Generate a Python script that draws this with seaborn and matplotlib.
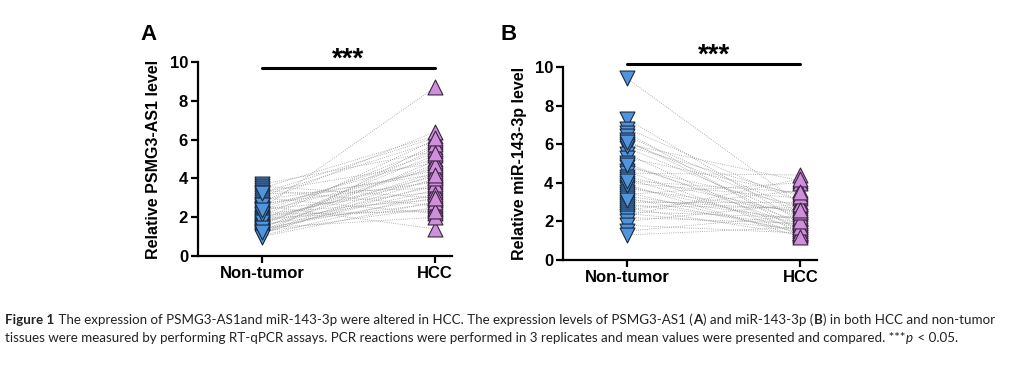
import matplotlib
matplotlib.use("Agg")
import matplotlib.pyplot as plt
import seaborn as sns
import pandas as pd

# ---- data ----
groups = ["Non-tumor", "HCC"]

psmg_nontumor = [3.7, 3.6, 3.5, 3.4, 3.3, 3.2, 3.1, 3.0, 2.9, 2.8, 2.7, 2.6, 2.5, 2.45, 2.4,
                 2.3, 2.2, 2.1, 2.0, 1.95, 1.9, 1.85, 1.8, 1.7, 1.65, 1.6, 1.55, 1.5, 1.45, 1.4,
                 1.35, 1.3, 1.25, 1.2, 1.15, 1.1, 1.05, 1.0, 2.65, 3.25, 1.75, 2.15, 2.35, 1.42, 1.22]
psmg_hcc = [5.4, 3.0, 6.2, 2.6, 4.8, 3.5, 5.9, 2.2, 4.2, 6.4, 3.8, 1.4, 5.0, 8.7, 3.3,
            4.5, 2.9, 5.6, 3.9, 2.4, 4.1, 6.0, 3.1, 4.6, 2.7, 5.2, 3.6, 4.3, 2.0, 5.5,
            3.4, 4.9, 2.5, 3.7, 4.0, 5.8, 3.2, 2.8, 4.4, 6.1, 4.7, 2.3, 5.3, 3.0, 4.2]

mir_nontumor = [9.4, 7.3, 6.8, 6.6, 6.4, 6.2, 6.0, 5.8, 5.5, 5.3, 5.0, 4.8, 4.6, 4.5, 4.3,
                4.2, 4.0, 3.8, 3.7, 3.5, 3.4, 3.3, 3.2, 3.0, 2.9, 2.8, 2.7, 2.6, 2.5, 2.4,
                2.3, 2.2, 2.0, 1.8, 1.5, 1.3, 5.9, 4.9, 3.9, 6.1, 4.1, 3.1]
mir_hcc = [2.9, 2.0, 3.0, 1.5, 2.6, 1.8, 4.1, 2.2, 1.4, 3.4, 1.7, 2.8, 1.3, 4.4, 2.4,
           1.6, 3.2, 1.9, 2.5, 1.4, 4.0, 2.1, 1.5, 3.0, 1.8, 2.7, 1.3, 3.6, 2.2, 1.6,
           4.2, 1.9, 2.9, 1.4, 2.3, 1.7, 3.3, 2.0, 1.2, 2.5, 3.5, 2.6]

ylabels = ["Relative PSMG3-AS1 level", "Relative miR-143-3p level"]
panel_letters = ["A", "B"]
sig_text = "***"

blue = "#4f94dc"
purple = "#cf8fdb"


def paired_frame(a, b):
    rows = []
    for i, (x, y) in enumerate(zip(a, b)):
        rows.append({"subject": i, "group": groups[0], "value": x})
        rows.append({"subject": i, "group": groups[1], "value": y})
    return pd.DataFrame(rows)


sns.set_style("ticks")
plt.rcParams["font.family"] = ["Liberation Sans", "DejaVu Sans"]
plt.rcParams["text.color"] = "black"
plt.rcParams["axes.labelcolor"] = "black"
plt.rcParams["xtick.color"] = "black"
plt.rcParams["ytick.color"] = "black"
plt.rcParams["axes.edgecolor"] = "black"

fig = plt.figure(figsize=(10.09, 3.65), dpi=100)
ax_a = fig.add_axes([0.196, 0.2986, 0.252, 0.531])
ax_b = fig.add_axes([0.558, 0.2877, 0.252, 0.529])

panels = [(ax_a, psmg_nontumor, psmg_hcc, 9.7), (ax_b, mir_nontumor, mir_hcc, 10.15)]

for k, (ax, nt, hcc, bar_y) in enumerate(panels):
    df = paired_frame(nt, hcc)
    df["pos"] = df["group"].map({groups[0]: 0, groups[1]: 1})

    sns.lineplot(data=df, x="pos", y="value", units="subject", estimator=None,
                 color="#9a9a9a", lw=0.6, linestyle=":", ax=ax, legend=False)
    sns.scatterplot(data=df[df["pos"] == 0], x="pos", y="value", marker="v", s=115,
                    color=blue, edgecolor="#1a2a40", linewidth=0.8, ax=ax, zorder=3, clip_on=False)
    sns.scatterplot(data=df[df["pos"] == 1], x="pos", y="value", marker="^", s=115,
                    color=purple, edgecolor="#3a2440", linewidth=0.8, ax=ax, zorder=3, clip_on=False)

    ax.set_xlim(-0.37, 1.098)
    ax.set_ylim(0, 10)
    ax.set_xticks([0, 1])
    ax.set_xticklabels(groups, fontsize=12, fontweight="bold")
    ax.set_yticks([0, 2, 4, 6, 8, 10])
    ax.set_yticklabels(["0", "2", "4", "6", "8", "10"], fontsize=12, fontweight="bold")
    ax.set_xlabel("")
    ax.set_ylabel(ylabels[k], fontsize=11.5, fontweight="bold", labelpad=6)
    for side in ["left", "bottom"]:
        ax.spines[side].set_linewidth(1.6)
    sns.despine(ax=ax)
    ax.tick_params(width=1.6, length=5, pad=2)

    ax.plot([0, 1], [bar_y, bar_y], color="black", lw=2.2, clip_on=False)
    ax.text(0.5, bar_y + 0.45, sig_text, ha="center", va="center", fontsize=20,
            fontweight="bold", clip_on=False)

fig.text(140 / 1009, 1 - 35 / 365, panel_letters[0], fontsize=16, fontweight="bold", va="center")
fig.text(500 / 1009, 1 - 35 / 365, panel_letters[1], fontsize=16, fontweight="bold", va="center")

# ---- caption, with bold pieces ----
cap_font = ["Lato", "DejaVu Sans"]
cap_size = 9.6
cap_color = "#222222"
line1 = [("Figure 1", "bold"),
         (" The expression of PSMG3-AS1and miR-143-3p were altered in HCC. The expression levels of PSMG3-AS1 (", "normal"),
         ("A", "bold"), (") and miR-143-3p (", "normal"), ("B", "bold"),
         (") in both HCC and non-tumor", "normal")]
line2 = [("tissues were measured by performing RT-qPCR assays. PCR reactions were performed in 3 replicates "
          "and mean values were presented and compared. ***", "normal"),
         ("p", "italic"), (" < 0.05.", "normal")]

fig.canvas.draw()
renderer = fig.canvas.get_renderer()
for line, ypix in [(line1, 320), (line2, 338)]:
    x = 5
    for txt, style in line:
        t = fig.text(x / 1009, 1 - ypix / 365, txt, fontsize=cap_size, family=cap_font,
                     fontweight="bold" if style == "bold" else "normal",
                     fontstyle="italic" if style == "italic" else "normal",
                     va="center", color=cap_color)
        x = t.get_window_extent(renderer).x1 + 0.5

fig.savefig("out.png", dpi=100)
